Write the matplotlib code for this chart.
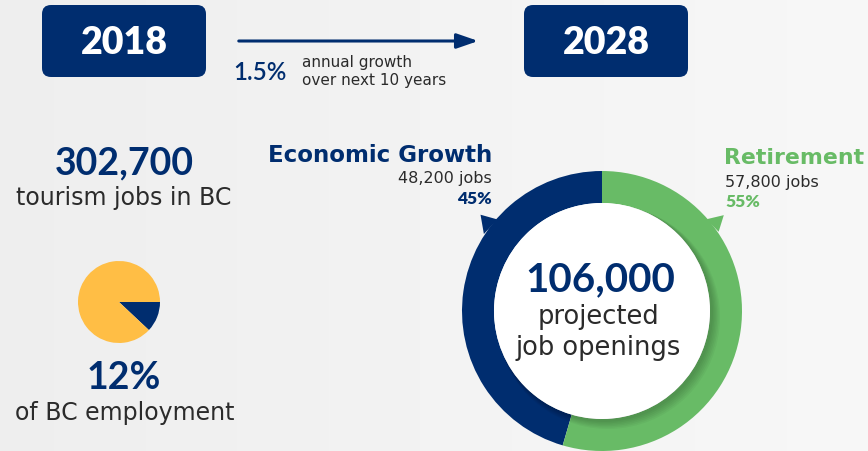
import numpy as np
import matplotlib
matplotlib.use("Agg")
from matplotlib import pyplot as plt
from matplotlib.patches import FancyBboxPatch, Circle, Polygon

years = ["2018", "2028"]
growth_rate = "1.5%"
growth_text = ["annual growth", "over next 10 years"]
tourism_jobs = 302700
bc_share = [12, 88]
opening_labels = ["Economic Growth", "Retirement"]
opening_jobs = [48200, 57800]
opening_pct = [45, 55]
total_openings = 106000

navy = "#002d6f"
green = "#68bb66"
yellow = "#ffbe45"
grey_text = "#2b2b2b"
W, H = 868, 452
body = ["DejaVu Sans"]


def Y(y):
    # convert a top-based pixel position to axis coords
    return H - y


plt.rcParams["font.family"] = ["Lato", "DejaVu Sans"]
figure = plt.figure(figsize=(W / 100, H / 100), dpi=100)
axis = figure.add_axes([0, 0, 1, 1])

# Background gradient
gradient = np.linspace(0.935, 0.972, 256).reshape(1, -1)
axis.imshow(np.dstack([gradient] * 3), extent=(0, W, 0, H), aspect="auto", zorder=0)

# Year boxes and growth arrow
for year, xcenter in zip(years, [124, 606]):
    box = FancyBboxPatch((xcenter - 82, Y(78)), 164, 72, boxstyle="round,pad=0,rounding_size=9",
                         facecolor=navy, edgecolor="none", zorder=2)
    axis.add_patch(box)
    axis.text(xcenter, Y(43), year, color="white", fontsize=27, fontweight="heavy",
              ha="center", va="center", zorder=3)

axis.annotate("", xy=(481, Y(42)), xytext=(236, Y(42)),
              arrowprops=dict(arrowstyle="-|>,head_length=1.3,head_width=0.45", color=navy, lw=2.2),
              zorder=3)
axis.text(233, Y(73), growth_rate, color=navy, fontsize=17.5, fontweight="semibold", ha="left", va="center")
axis.text(302, Y(63), growth_text[0], color=grey_text, fontsize=11, family=body, ha="left", va="center")
axis.text(302, Y(80), growth_text[1], color=grey_text, fontsize=11, family=body, ha="left", va="center")

# Tourism jobs
axis.text(124, Y(163), f"{tourism_jobs:,}", color=navy, fontsize=27, fontweight="bold", ha="center", va="center")
axis.text(124, Y(198), "tourism jobs in BC", color=grey_text, fontsize=17, family=body,
          ha="center", va="center")

# Small pie for BC employment share
axis.pie(bc_share, colors=[navy, yellow], startangle=0, counterclock=False,
         center=(119, Y(303)), radius=41, wedgeprops=dict(linewidth=0))
axis.text(124, Y(378), f"{bc_share[0]}%", color=navy, fontsize=27, fontweight="bold", ha="center", va="center")
axis.text(125, Y(413), "of BC employment", color=grey_text, fontsize=17, family=body,
          ha="center", va="center")

# Donut of job openings
cx, cy, r_out, ring = 602, Y(312), 140, 32
ring_colors = [navy, green]
axis.pie(opening_jobs, colors=ring_colors, startangle=90, counterclock=True,
         center=(cx, cy), radius=r_out, wedgeprops=dict(width=ring, linewidth=0))

# Pointer tails on the ring
for color, angles in zip(ring_colors, [(138.8, 146.9, 141.6), (41.3, 34.2, 38.2)]):
    base1, base2, tip = np.radians(angles)
    points = [(cx + 139 * np.cos(base1), cy + 139 * np.sin(base1)),
              (cx + 141 * np.cos(base2), cy + 141 * np.sin(base2)),
              (cx + 155 * np.cos(tip), cy + 155 * np.sin(tip))]
    axis.add_patch(Polygon(points, closed=True, facecolor=color, edgecolor="none", zorder=2))

# soft shadow under centre disk
for k in range(6):
    axis.add_patch(Circle((cx + 2 + k * 0.8, cy - 2 - k * 0.8), r_out - ring + 1 + k * 0.6,
                          facecolor="black", alpha=0.035, edgecolor="none", zorder=3))
axis.add_patch(Circle((cx, cy), r_out - ring, facecolor="white", edgecolor="none", zorder=4))

axis.text(600, Y(280), f"{total_openings:,}", color=navy, fontsize=29, fontweight="bold",
          ha="center", va="center", zorder=5)
axis.text(599, Y(317), "projected", color=grey_text, fontsize=18.5, family=body,
          ha="center", va="center", zorder=5)
axis.text(598, Y(348), "job openings", color=grey_text, fontsize=18.5, family=body,
          ha="center", va="center", zorder=5)

# Labels for the two segments
axis.text(492, Y(155), opening_labels[0], color=navy, fontsize=16.5, fontweight="bold", family=body,
          ha="right", va="center")
axis.text(492, Y(178), f"{opening_jobs[0]:,} jobs", color=grey_text, fontsize=11.5, family=body,
          ha="right", va="center")
axis.text(492, Y(199), f"{opening_pct[0]}%", color=navy, fontsize=12.5, fontweight="heavy", ha="right", va="center")
axis.text(724, Y(158), opening_labels[1], color=green, fontsize=15.8, fontweight="bold", family=body,
          ha="left", va="center")
axis.text(725, Y(182), f"{opening_jobs[1]:,} jobs", color=grey_text, fontsize=11.5, family=body,
          ha="left", va="center")
axis.text(725, Y(202), f"{opening_pct[1]}%", color=green, fontsize=12.5, fontweight="heavy", ha="left", va="center")

axis.set_xlim(0, W)
axis.set_ylim(0, H)
axis.set_aspect("auto")
axis.axis("off")
figure.savefig("out.png", dpi=100)
